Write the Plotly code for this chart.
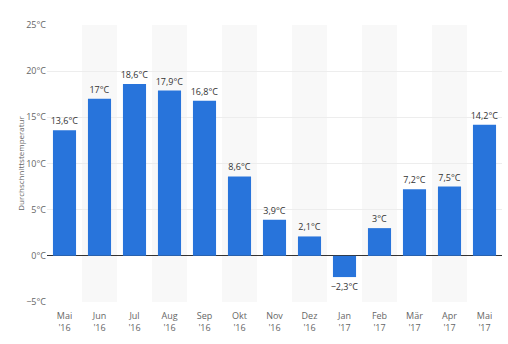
import plotly.graph_objects as go

months = ["Mai<br>'16", "Jun<br>'16", "Jul<br>'16", "Aug<br>'16", "Sep<br>'16", "Okt<br>'16",
          "Nov<br>'16", "Dez<br>'16", "Jan<br>'17", "Feb<br>'17", "Mär<br>'17", "Apr<br>'17", "Mai<br>'17"]
temps = [13.6, 17, 18.6, 17.9, 16.8, 8.6, 3.9, 2.1, -2.3, 3, 7.2, 7.5, 14.2]
y_ticks = [-5, 0, 5, 10, 15, 20, 25]

def fmt(v):
    s = ("%g" % v).replace(".", ",").replace("-", "−")
    return s + "°C"

labels = [fmt(v) for v in temps]

fig = go.Figure()
fig.add_trace(go.Bar(
    x=list(range(len(months))), y=temps,
    marker=dict(color="#2874DB", line=dict(width=0)),
    text=labels, textposition="outside", cliponaxis=False,
    textfont=dict(family="Open Sans, Arial", size=9, color="#333333"),
))

shapes = []
for i in range(len(months)):
    if i % 2 == 1:
        shapes.append(dict(type="rect", xref="x", yref="paper", x0=i - 0.5, x1=i + 0.5,
                           y0=0, y1=1, fillcolor="#F8F8F8", line=dict(width=0), layer="below"))

fig.update_layout(
    width=508, height=344,
    margin=dict(l=47, r=6, t=25, b=42),
    paper_bgcolor="white", plot_bgcolor="white",
    bargap=0.34, showlegend=False, shapes=shapes,
    uniformtext=dict(minsize=9, mode="show"),
    font=dict(family="Open Sans, Arial", size=9, color="#666666"),
)
fig.update_xaxes(
    tickmode="array", tickvals=list(range(len(months))), ticktext=months,
    range=[-0.5, len(months) - 0.5], showgrid=False, zeroline=False,
    tickfont=dict(size=9, color="#666666"), ticks="outside", ticklen=5, tickcolor="rgba(0,0,0,0)",
)
fig.update_yaxes(
    range=[-5, 25], tickvals=y_ticks, ticktext=[("−" if t < 0 else "") + f"{abs(t)}°C" for t in y_ticks],
    showgrid=True, gridcolor="#EDEDED", gridwidth=1,
    zeroline=True, zerolinecolor="#333333", zerolinewidth=1,
    tickfont=dict(size=9, color="#666666"), ticks="",
    title=dict(text="Durchschnittstemperatur", font=dict(size=8, color="#666666"), standoff=0),
)
fig.write_html("out.html")
